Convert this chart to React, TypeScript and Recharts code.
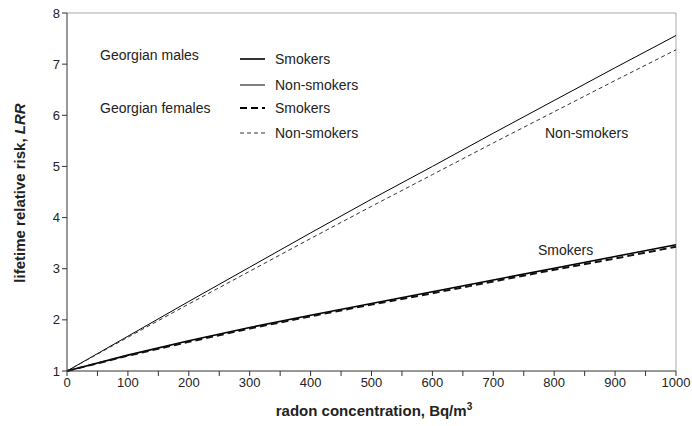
import React from 'react';
import { LineChart, Line, XAxis, YAxis, ReferenceLine } from 'recharts';

const radon = [0, 100, 200, 300, 400, 500, 600, 700, 800, 900, 1000];
const maleSmokers = [1, 1.31, 1.59, 1.85, 2.09, 2.32, 2.55, 2.78, 3.01, 3.24, 3.47];
const maleNonSmokers = [1, 1.68, 2.36, 3.03, 3.7, 4.36, 5.0, 5.65, 6.29, 6.93, 7.56];
const femaleSmokers = [1, 1.3, 1.57, 1.83, 2.07, 2.3, 2.52, 2.75, 2.98, 3.2, 3.43];
const femaleNonSmokers = [1, 1.66, 2.31, 2.95, 3.59, 4.22, 4.84, 5.46, 6.07, 6.68, 7.28];

const xTicks = [0, 50, 100, 150, 200, 250, 300, 350, 400, 450, 500, 550, 600, 650, 700, 750, 800, 850, 900, 950, 1000];
const yTicks = [1, 2, 3, 4, 5, 6, 7, 8];

const data = radon.map((r, i) => ({
  radon: r,
  maleSmokers: maleSmokers[i],
  maleNonSmokers: maleNonSmokers[i],
  femaleSmokers: femaleSmokers[i],
  femaleNonSmokers: femaleNonSmokers[i],
}));

const font = 'Liberation Sans, Arial, sans-serif';
const tickStyle = { fill: '#222', fontSize: 13, fontFamily: font };

const App: React.FC = () => {
  return (
    <div style={{ position: 'absolute', left: 0, top: 0, width: 692, height: 426, background: '#fff' }}>
      <LineChart width={692} height={426} data={data} margin={{ top: 13, right: 16, bottom: 15, left: 22 }}>
        <XAxis
          dataKey="radon"
          type="number"
          domain={[0, 1000]}
          ticks={xTicks}
          interval={0}
          tickFormatter={(v: number) => (v % 100 === 0 ? String(v) : '')}
          tick={tickStyle}
          tickSize={5}
          stroke="#333"
          height={40}
        />
        <YAxis
          type="number"
          domain={[1, 8]}
          ticks={yTicks}
          interval={0}
          tick={tickStyle}
          tickSize={5}
          stroke="#333"
          width={45}
        />
        <ReferenceLine y={8} stroke="#aaa" />
        <ReferenceLine x={1000} stroke="#aaa" />
        <Line dataKey="maleNonSmokers" stroke="#000" strokeWidth={1} dot={false} isAnimationActive={false} />
        <Line dataKey="femaleNonSmokers" stroke="#333" strokeWidth={1} strokeDasharray="4 3" dot={false} isAnimationActive={false} />
        <Line dataKey="maleSmokers" stroke="#000" strokeWidth={1.6} dot={false} isAnimationActive={false} />
        <Line dataKey="femaleSmokers" stroke="#111" strokeWidth={2} strokeDasharray="7 4" dot={false} isAnimationActive={false} />
      </LineChart>
      <svg width={692} height={426} style={{ position: 'absolute', left: 0, top: 0, pointerEvents: 'none' }}>
        <g fontFamily={font} fontSize={14} fill="#222">
          <text x={100} y={60}>Georgian males</text>
          <text x={100} y={113}>Georgian females</text>
          <line x1={240} y1={59} x2={265} y2={59} stroke="#000" strokeWidth={1.6} />
          <line x1={240} y1={85} x2={265} y2={85} stroke="#000" strokeWidth={1} />
          <line x1={240} y1={108} x2={265} y2={108} stroke="#000" strokeWidth={2} strokeDasharray="7 4" />
          <line x1={240} y1={133} x2={265} y2={133} stroke="#333" strokeWidth={1} strokeDasharray="4 3" />
          <text x={275} y={64}>Smokers</text>
          <text x={275} y={90}>Non-smokers</text>
          <text x={275} y={113}>Smokers</text>
          <text x={275} y={138}>Non-smokers</text>
          <text x={545} y={138}>Non-smokers</text>
          <text x={538} y={255}>Smokers</text>
        </g>
        <text transform="translate(25,193) rotate(-90)" textAnchor="middle" fontFamily={font} fontSize={15} fontWeight="bold" fill="#222">
          lifetime relative risk, <tspan fontStyle="italic">LRR</tspan>
        </text>
        <text x={374} y={416} textAnchor="middle" fontFamily={font} fontSize={15} fontWeight="bold" fill="#222">
          radon concentration, Bq/m<tspan dy={-6} fontSize={10}>3</tspan>
        </text>
      </svg>
    </div>
  );
};

export default App;
